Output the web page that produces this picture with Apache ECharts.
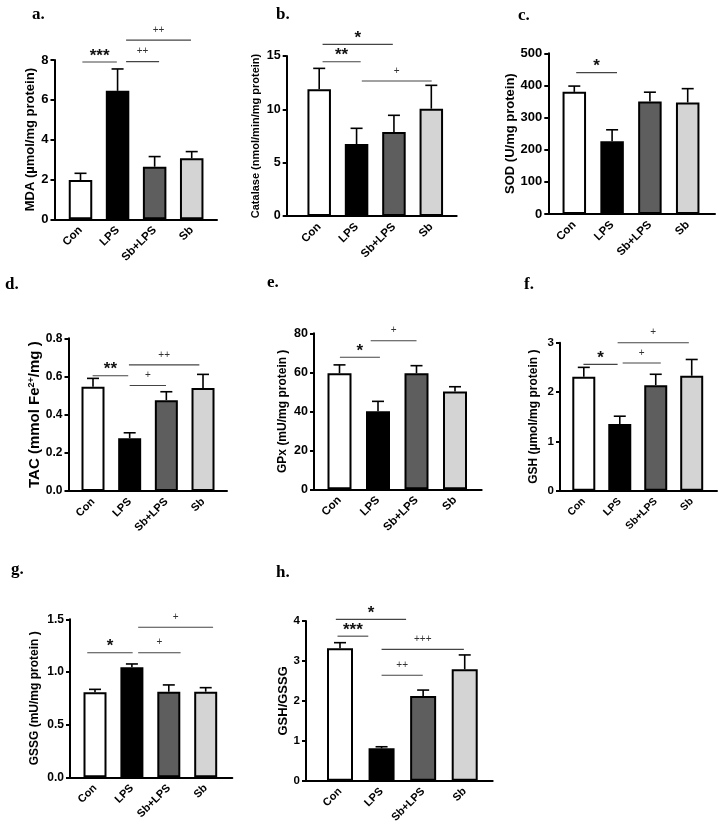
<!DOCTYPE html>
<html><head><meta charset="utf-8">
<script src="https://cdn.jsdelivr.net/npm/echarts@6/dist/echarts.min.js"></script>
<style>html,body{margin:0;padding:0;background:#fff}#c{width:719px;height:826px}</style>
</head><body><div id="c"></div>
<script>
// ---------- data ----------
const categories = ['Con', 'LPS', 'Sb+LPS', 'Sb'];

const mdaMean = [1.97, 6.45, 2.64, 3.06];
const mdaSem  = [0.34, 1.10, 0.51, 0.34];
const catMean = [11.88, 6.75, 7.87, 10.06];
const catSem  = [1.96, 1.47, 1.57, 2.19];
const sodMean = [380, 226, 350, 347];
const sodSem  = [18, 36, 29, 43];
const tacMean = [0.546, 0.277, 0.476, 0.539];
const tacSem  = [0.044, 0.028, 0.044, 0.072];
const gpxMean = [59.5, 40.0, 59.5, 50.1];
const gpxSem  = [4.3, 5.1, 3.9, 2.5];
const gshMean = [2.31, 1.35, 2.14, 2.33];
const gshSem  = [0.19, 0.16, 0.22, 0.33];
const gssgMean = [0.807, 1.044, 0.813, 0.813];
const gssgSem  = [0.028, 0.032, 0.064, 0.038];
const ratioMean = [3.315, 0.81, 2.12, 2.79];
const ratioSem  = [0.142, 0.04, 0.15, 0.36];

// y-axis ranges: [min, max, interval]
const yRangeA = [0, 8, 2];
const yRangeB = [0, 15, 5];
const yRangeC = [0, 500, 100];
const yRangeD = [0, 0.8, 0.2];
const yRangeE = [0, 80, 20];
const yRangeF = [0, 3, 1];
const yRangeG = [0, 1.5, 0.5];
const yRangeH = [0, 4, 1];

// significance brackets: [from group, to group, y value, label]
const sigA = [[0.05, 0.98, 7.9, '***'], [1.23, 2.12, 7.92, '++'], [1.23, 2.98, 9.0, '++']];
const sigB = [[0.09, 1.11, 14.46, '**'], [0.09, 1.97, 16.09, '*'], [1.14, 3.01, 12.65, '+']];
const sigC = [[0.05, 1.13, 440, '*']];
const sigD = [[-0.01, 0.96, 0.604, '**'], [1.0, 1.99, 0.553, '+'], [0.98, 2.9, 0.661, '++']];
const sigE = [[0.01, 1.05, 67.7, '*'], [0.81, 2.0, 76.2, '+']];
const sigF = [[-0.01, 0.94, 2.56, '*'], [1.08, 2.14, 2.59, '+'], [0.94, 2.92, 3.0, '+']];
const sigG = [[-0.21, 1.02, 1.183, '*'], [1.17, 2.32, 1.183, '+'], [1.17, 3.2, 1.424, '+']];
const sigH = [[-0.1, 1.59, 4.04, '*'], [-0.06, 0.68, 3.62, '***'], [1.0, 2.98, 3.29, '+++'], [1.0, 1.99, 2.64, '++']];

const panelLetters = ['a.', 'b.', 'c.', 'd.', 'e.', 'f.', 'g.', 'h.'];
const yTitles = [
  'MDA (µmol/mg protein)',
  'Catalase (nmol/min/mg protein)',
  'SOD (U/mg protein)',
  'TAC (mmol Fe{sup|2+}/mg )',
  'GPx (mU/mg protein )',
  'GSH (µmol/mg protein )',
  'GSSG (mU/mg protein )',
  'GSH/GSSG'
];

// ---------- layout / style ----------
const barColors = ['#ffffff', '#000000', '#5e5e5e', '#d4d4d4'];
const layouts = [
  {ax: 54.5, top: 60,    bot: 219.3, xEnd: 217,   c0: 80.5,  sp: 37.07, bw: 23.5, fs: 13, gap: 17, lx: 27,  ly: 1,   dec: 0, tf: 13, cf: 11.5},
  {ax: 286.7, top: 56,   bot: 216,   xEnd: 456.7, c0: 319.2, sp: 37.37, bw: 23.5, fs: 11, gap: 25, lx: 271, ly: 1,   dec: 0, tf: 12.5, cf: 11.5},
  {ax: 548.3, top: 53.3, bot: 214,   xEnd: 715,   c0: 574.3, sp: 37.8,  bw: 23.5, fs: 13, gap: 25, lx: 513, ly: 2,   dec: 0, tf: 13, cf: 11.5},
  {ax: 68.5, top: 338.3, bot: 491,   xEnd: 227,   c0: 93,    sp: 36.67, bw: 23,   fs: 15, gap: 24, lx: 0,   ly: 271, dec: 1, tf: 12, cf: 11},
  {ax: 314, top: 333.3,  bot: 489.3, xEnd: 481.7, c0: 339.5, sp: 38.5,  bw: 24,   fs: 12, gap: 25, lx: 262, ly: 269, dec: 0, tf: 12.5, cf: 11.5},
  {ax: 560, top: 342.7,  bot: 490.7, xEnd: 717,   c0: 583.8, sp: 35.97, bw: 23,   fs: 12, gap: 20, lx: 519, ly: 271, dec: 0, tf: 11.5, cf: 10.5},
  {ax: 70, top: 619.3,   bot: 777.3, xEnd: 232.3, c0: 95,    sp: 36.9,  bw: 23,   fs: 12, gap: 29, lx: 6,   ly: 556, dec: 1, tf: 12, cf: 11},
  {ax: 306, top: 621,    bot: 780.7, xEnd: 492.7, c0: 340,   sp: 41.57, bw: 26,   fs: 13, gap: 10, lx: 271, ly: 559, dec: 0, tf: 11.5, cf: 11}
];

const means = [mdaMean, catMean, sodMean, tacMean, gpxMean, gshMean, gssgMean, ratioMean];
const sems  = [mdaSem, catSem, sodSem, tacSem, gpxSem, gshSem, gssgSem, ratioSem];
const ranges = [yRangeA, yRangeB, yRangeC, yRangeD, yRangeE, yRangeF, yRangeG, yRangeH];
const sigs = [sigA, sigB, sigC, sigD, sigE, sigF, sigG, sigH];

const FONT = "'Liberation Sans', Arial, sans-serif";

const option = {
  animation: false,
  backgroundColor: '#ffffff',
  title: [], grid: [], xAxis: [], yAxis: [], series: []
};

layouts.forEach((L, i) => {
  option.title.push({
    text: panelLetters[i], left: L.lx, top: L.ly,
    textStyle: {fontFamily: "'Liberation Serif', 'Times New Roman', serif", fontWeight: 'bold', fontSize: 17, color: '#000'}
  });
  option.grid.push({left: L.ax, top: L.top, width: L.xEnd - L.ax, height: L.bot - L.top, containLabel: false});
  option.xAxis.push({
    gridIndex: i, type: 'value',
    min: (L.ax - L.c0) / L.sp, max: (L.xEnd - L.c0) / L.sp,
    minInterval: 1, maxInterval: 1,
    splitLine: {show: false}, axisTick: {show: false},
    axisLine: {show: true, onZero: false, lineStyle: {color: '#000', width: 2}},
    axisLabel: {
      rotate: 45, margin: 9, fontSize: L.cf, fontWeight: 'bold', color: '#000', fontFamily: FONT,
      showMinLabel: false, showMaxLabel: false,
      formatter: v => {
        const r = Math.round(v);
        return (Math.abs(v - r) < 1e-6 && r >= 0 && r < categories.length) ? categories[r] : '';
      }
    }
  });
  const R = ranges[i];
  option.yAxis.push({
    gridIndex: i, type: 'value', min: R[0], max: R[1], interval: R[2],
    splitLine: {show: false},
    axisLine: {show: true, onZero: false, lineStyle: {color: '#000', width: 2}},
    axisTick: {show: true, length: 4, lineStyle: {color: '#000', width: 2}},
    axisLabel: {
      fontSize: L.tf, fontWeight: 'bold', color: '#000', margin: 6, fontFamily: FONT,
      formatter: v => v.toFixed(L.dec)
    },
    name: yTitles[i], nameLocation: 'middle', nameGap: L.gap,
    nameTextStyle: {
      fontSize: L.fs, fontWeight: 'bold', color: '#000', fontFamily: FONT,
      rich: {sup: {fontSize: 9, fontWeight: 'bold', color: '#000', fontFamily: FONT, verticalAlign: 'top'}}
    }
  });

  // error bars (upper only)
  const m = means[i], s = sems[i];
  option.series.push({
    type: 'custom', xAxisIndex: i, yAxisIndex: i, z: 1, clip: false,
    data: m.map((v, j) => [j, v, v + s[j]]),
    encode: {x: 0, y: [1, 2]},
    renderItem: (params, api) => {
      const x = api.value(0);
      const p0 = api.coord([x, api.value(1)]);
      const p1 = api.coord([x, api.value(2)]);
      const cap = 6;
      const st = {stroke: '#000', lineWidth: 1.6};
      return {type: 'group', children: [
        {type: 'line', shape: {x1: p0[0], y1: p0[1], x2: p1[0], y2: p1[1]}, style: st},
        {type: 'line', shape: {x1: p1[0] - cap, y1: p1[1], x2: p1[0] + cap, y2: p1[1]}, style: st}
      ]};
    }
  });

  // bars
  option.series.push({
    type: 'bar', xAxisIndex: i, yAxisIndex: i, z: 2, barWidth: L.bw,
    data: m.map((v, j) => ({value: [j, v], itemStyle: {color: barColors[j]}})),
    itemStyle: {borderColor: '#000', borderWidth: 2}
  });

  // significance brackets
  const sg = sigs[i];
  option.series.push({
    type: 'custom', xAxisIndex: i, yAxisIndex: i, z: 3, clip: false,
    data: sg.map(d => [d[0], d[1], d[2]]),
    encode: {x: [0, 1], y: 2},
    renderItem: (params, api) => {
      const a = api.coord([api.value(0), api.value(2)]);
      const b = api.coord([api.value(1), api.value(2)]);
      const lab = sg[params.dataIndex][3];
      const star = lab.indexOf('*') >= 0;
      return {type: 'group', children: [
        {type: 'line', shape: {x1: a[0], y1: a[1], x2: b[0], y2: b[1]}, style: {stroke: '#444', lineWidth: 1.1}},
        {type: 'text', x: (a[0] + b[0]) / 2, y: a[1] - (star ? 6 : 10),
          style: {text: lab, textAlign: 'center', textVerticalAlign: 'middle',
            fontSize: star ? 17 : 10, fontWeight: star ? 'bold' : 'normal',
            fontFamily: FONT, fill: star ? '#111' : '#333'}}
      ]};
    }
  });
});

const chart = echarts.init(document.getElementById('c'), null, {renderer: 'canvas'});
chart.setOption(option);
</script>
</body></html>
